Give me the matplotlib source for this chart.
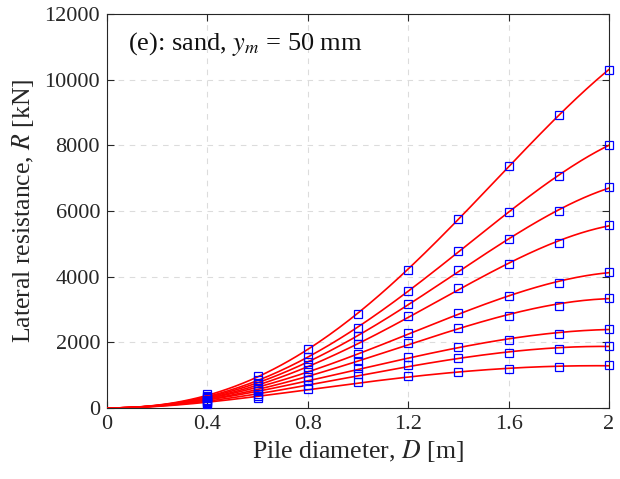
import numpy as np
import matplotlib
matplotlib.use("Agg")
import matplotlib.pyplot as plt

plt.rcParams['font.family'] = ['Liberation Serif', 'DejaVu Serif']
plt.rcParams['mathtext.fontset'] = 'stix'

# pile diameters of the computed points [m]
D = np.array([0.4, 0.6, 0.8, 1.0, 1.2, 1.4, 1.6, 1.8, 2.0])

# lateral resistance [kN], one row per curve, top to bottom
R1 = [430, 990, 1790, 2860, 4200, 5750, 7380, 8920, 10300]
R2 = [370, 850, 1560, 2430, 3550, 4780, 5980, 7070, 8010]
R3 = [330, 750, 1400, 2190, 3160, 4190, 5150, 5990, 6720]
R4 = [290, 670, 1240, 1950, 2800, 3640, 4400, 5030, 5580]
R5 = [250, 590, 1100, 1650, 2290, 2880, 3400, 3810, 4150]
R6 = [220, 510, 950, 1440, 1990, 2450, 2810, 3120, 3365]
R7 = [190, 430, 850, 1210, 1550, 1850, 2080, 2265, 2415]
R8 = [160, 370, 690, 1030, 1300, 1510, 1690, 1800, 1900]
R9 = [130, 305, 570, 790, 965, 1097, 1188, 1259, 1300]
curves = [R1, R2, R3, R4, R5, R6, R7, R8, R9]

fig = plt.figure(figsize=(6.2, 4.79), dpi=100)
ax = fig.add_axes([0.1726, 0.1482, 0.8097, 0.8226])

# fitted curve R = a D^2 + b D^3 + c D^4 for each set of points
Dfit = np.linspace(0, 2, 200)
A = np.column_stack([D**2, D**3, D**4])
for R in curves:
    coef = np.linalg.lstsq(A, np.array(R, float), rcond=None)[0]
    Rfit = coef[0]*Dfit**2 + coef[1]*Dfit**3 + coef[2]*Dfit**4
    ax.plot(Dfit, Rfit, color='red', lw=1.2, zorder=3)
for R in curves:
    ax.plot(D, R, 's', mfc='none', mec='blue', ms=5.5, mew=0.9, zorder=4, clip_on=False)

ax.set_xlim(0, 2)
ax.set_ylim(0, 12000)
ax.set_xticks([0, 0.4, 0.8, 1.2, 1.6, 2])
ax.set_xticklabels(['0', '0.4', '0.8', '1.2', '1.6', '2'])
ax.set_yticks(np.arange(0, 12001, 2000))
ax.grid(True, ls=(0, (5, 5)), color='#dcdcdc', lw=0.8)
ax.tick_params(direction='in', top=True, right=True, labelsize=16, length=5, width=0.8,
               pad=5, colors='#262626')
for s in ax.spines.values():
    s.set_linewidth(0.8)
    s.set_color('#262626')

ax.set_xlabel('Pile diameter, $D$ [m]', fontsize=18.5, color='#262626', labelpad=3)
ax.set_ylabel('Lateral resistance, $R$ [kN]', fontsize=18.5, color='#262626', labelpad=6)
ax.text(0.042, 0.924, '(e): sand, $y_m$ = 50 mm', transform=ax.transAxes,
        fontsize=19, va='center', ha='left', color='#111111')

fig.savefig('out.png', dpi=100)
